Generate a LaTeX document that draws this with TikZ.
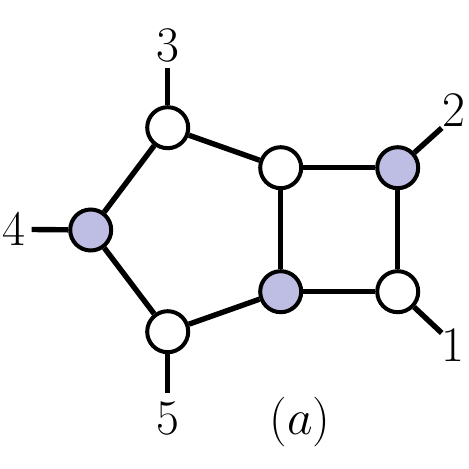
\documentclass[tikz,border=0pt]{standalone}
\definecolor{nodeblue}{RGB}{190,190,228}
\begin{document}
\begin{tikzpicture}[x=0.5pt,y=-0.5pt,
  vert/.style={circle,draw=black,line width=2pt,minimum size=20.5pt,inner sep=0pt},
  wv/.style={vert,fill=white},
  bv/.style={vert,fill=nodeblue},
  edge/.style={line width=2.7pt},
  lab/.style={inner sep=0pt,font=\fontsize{23}{26}\selectfont}]
\useasboundingbox (0,0) rectangle (469,469);
\coordinate (t3) at (167.7,68);
\coordinate (t4) at (31.7,229.5);
\coordinate (t5) at (167.7,393);
\coordinate (t2) at (441.7,128);
\coordinate (t1) at (441.7,333);
\node[wv] (A) at (167.7,127.7) {};
\node[wv] (B) at (280.7,167.7) {};
\node[bv] (C) at (397.7,167.7) {};
\node[bv] (D) at (90.7,230) {};
\node[bv] (E) at (280.7,291.7) {};
\node[wv] (F) at (397.7,291.7) {};
\node[wv] (G) at (167.7,331.7) {};
\draw[edge] (t3) -- (A);
\draw[edge] (t4) -- (D);
\draw[edge] (t5) -- (G);
\draw[edge] (t2) -- (C);
\draw[edge] (t1) -- (F);
\draw[edge] (A) -- (B);
\draw[edge] (A) -- (D);
\draw[edge] (D) -- (G);
\draw[edge] (G) -- (E);
\draw[edge] (B) -- (C);
\draw[edge] (B) -- (E);
\draw[edge] (C) -- (F);
\draw[edge] (E) -- (F);
\node[lab] (l3) at (167.7,45) {$3$};
\node[lab] (l4) at (14,229) {$4$};
\node[lab] (l5) at (167.7,418) {$5$};
\node[lab] (l2) at (454,110) {$2$};
\node[lab] (l1) at (453,345) {$1$};
\node[lab] (la) at (300,422) {$(a)$};
\end{tikzpicture}
\end{document}
